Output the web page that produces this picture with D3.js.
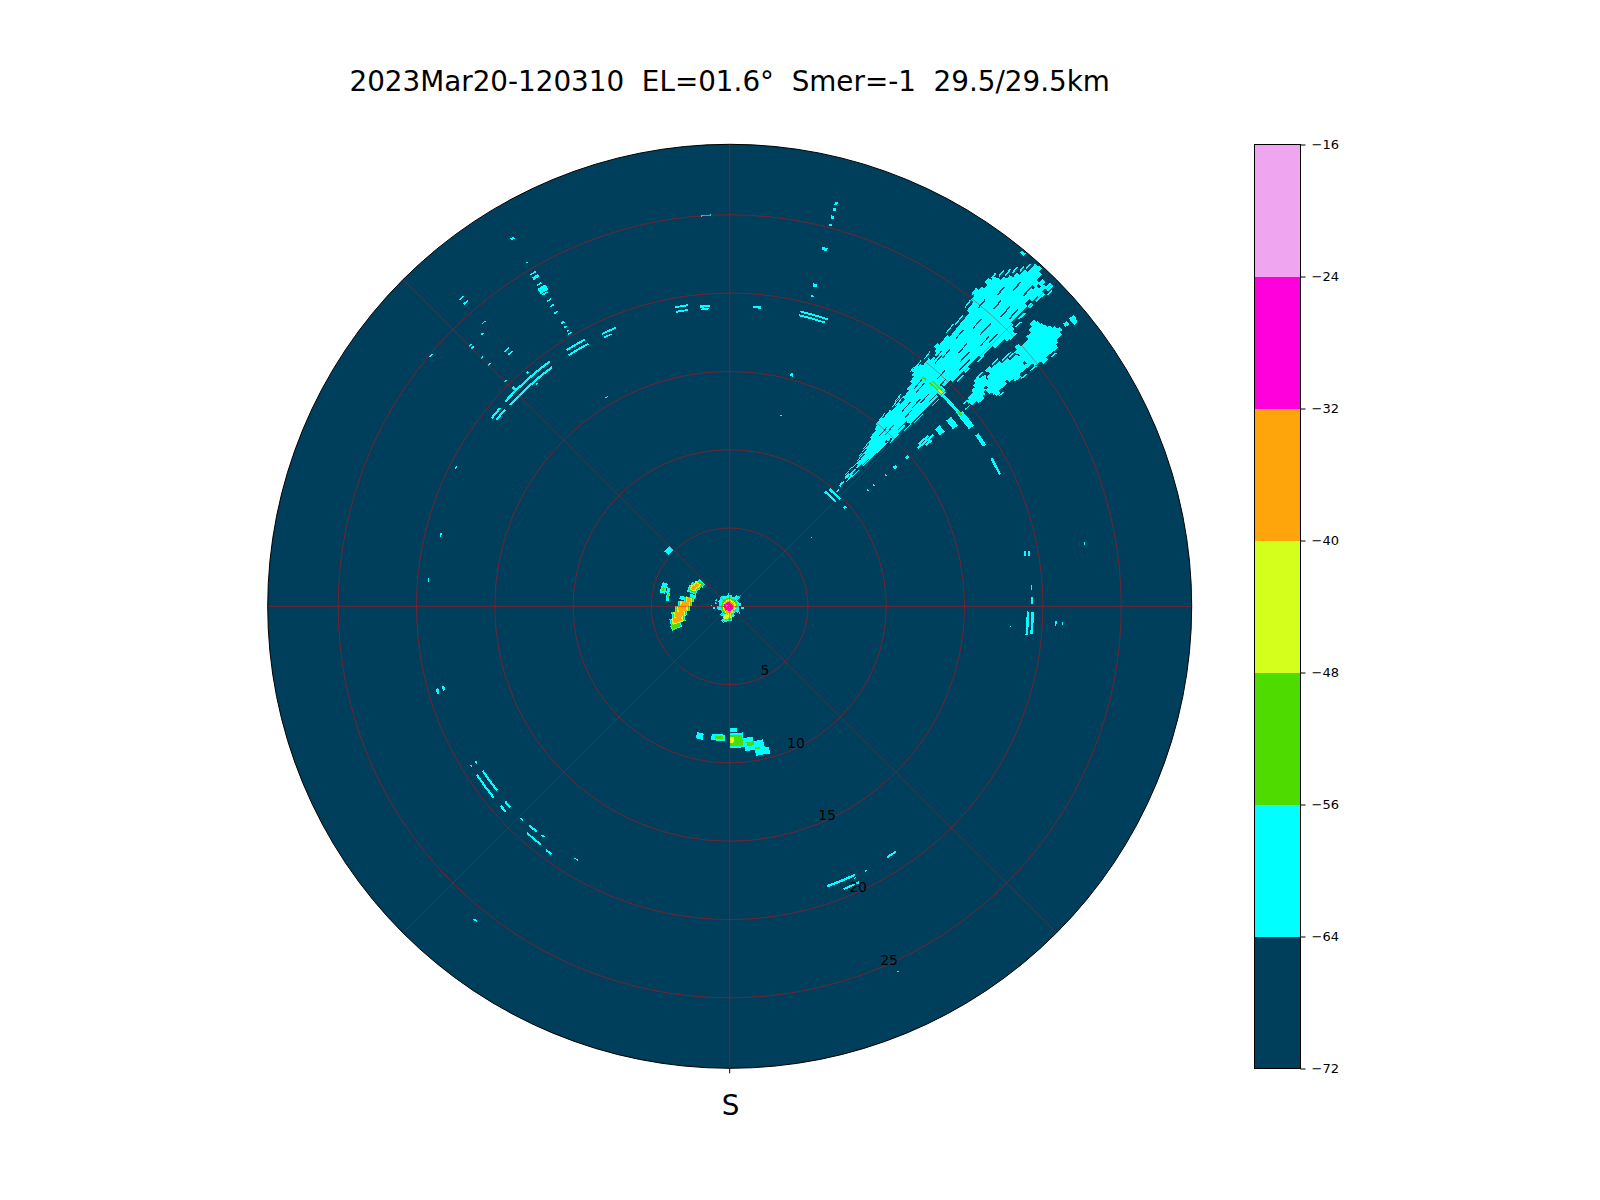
<!DOCTYPE html>
<html><head><meta charset="utf-8">
<script src="https://cdnjs.cloudflare.com/ajax/libs/d3/7.8.5/d3.min.js"></script>
<style>html,body{margin:0;padding:0;background:#fff}svg{display:block}text{font-family:"DejaVu Sans";fill:#000;white-space:pre}</style>
</head><body><svg id="c" width="1600" height="1200"></svg>
<script>
const titleText = "2023Mar20-120310  EL=01.6\u00b0  Smer=-1  29.5/29.5km";
const maxRange = 29.5;
const rangeTicks = [5,10,15,20,25];
const spokeAngles = [0,45,90,135,180,225,270,315];
const levelBounds = [-72,-64,-56,-48,-40,-32,-24,-16];
const levelColors = ["#003f5c","#00ffff","#4ddb00","#d4ff1c","#ffa50c","#ff00dd","#f0a5f0"];

// Radial strips: azimuth (deg) followed by [rangeStart, rangeEnd] gate runs (km)
const mainPlumeStrips = [
 [38,[19.0,19.4],[25.3,25.7]],
 [38.5,[18.8,19.7],[21.1,21.4],[24.9,26.0],[26.3,26.7]],
 [39,[14.9,15.5],[18.4,20.3],[20.9,22.2],[24.2,27.0]],
 [39.5,[14.6,16.2],[17.9,20.6],[20.7,27.1]],
 [40,[14.0,16.9],[17.3,27.4]],
 [40.5,[13.7,27.7]],
 [41,[13.3,28.1]],
 [41.5,[13,28.6]],
 [42,[11.0,11.4],[12.2,29.3]],
 [42.5,[10.4,10.8],[11.4,11.9],[12.0,29.4]],
 [43,[10.0,10.2],[11.1,11.5],[12.4,29.1]],
 [43.5,[12.9,14.4],[14.6,28.0],[28.2,28.6]],
 [44,[14.9,16.1],[16.3,19],[19.6,28.3],[28.5,28.9]],
 [44.5,[16.4,18.9],[20.2,27.0],[27.4,28.7]],
 [45,[19.0,19.4],[21.2,21.6],[22.6,25.5],[27.0,27.3],[27.9,28.3],[28.6,29.1]],
 [45.5,[23.6,25.4]],
 [46,[24.5,25.2]]
];
// Thin no-echo streaks inside the main plume: [azimuth, rangeStart, rangeEnd]
const plumeGaps = [
 [40.2,22.4,23.1],[40.6,20.9,21.6],[41.2,23.6,24.4],[41.6,25.4,26.1],[42.1,21.8,22.6],[42.4,19.6,20.4],
 [42.7,23.6,24.6],[43.1,25.3,26.2],[43.3,21.4,22.3],[43.6,19.0,20.0],[43.9,23.1,23.9],[44.2,21.0,22.0],
 [44.2,25.6,26.4],[41.1,18.1,18.9],[41.5,16.6,17.4],[42.2,14.8,15.6],[42.9,16.4,17.1],[43.2,17.8,18.6],
 [40.3,18.2,19.0],[41.9,27.1,27.8],[43.4,27.3,28.0],[40.7,26.2,26.9],[39.8,24.8,25.5],[42.6,17.2,18.0],
 [40.2,20.3,21.0],[39.7,20.4,21.2],[44.5,23.6,24.4],[43.7,15.6,16.4],[44.3,18.2,18.9],[41.3,14.5,15.2]
];
// Thin echo spikes fringing both plumes: [azimuth, rangeStart, rangeEnd]
const upperFringe = [
 [37.6,18.9,19.3],[37.9,19.2,19.9],[38.2,20.1,20.7],[38.4,22.3,23.0],[38.7,23.0,23.8],[38.2,24.3,24.9],[37.9,25.2,25.6],
 [38.6,26.8,27.2],[39.2,27.2,27.7],[39.8,27.5,28.0],[40.3,27.9,28.4],[40.9,28.3,28.7],[41.3,28.7,29.1],[39.2,16.4,17.2],
 [39.6,16.6,17.4],[38.9,16.8,17.4],[38.8,15.3,15.8],[40.3,13.2,13.7],[40.7,12.7,13.3],[41.2,12.3,13.0],[41.6,11.8,12.6],[41.3,11.2,11.8]
];
const lowerFringe = [
 [45.2,26.0,26.6],[45.4,22.2,22.8],[45.3,20.4,21],[45.7,25.5,26.0],[46.4,24.7,25.3],[45.2,16.6,17.4],[44.9,15.8,16.4],[44.4,14.6,15.4],
 [43.9,13.6,14.6],[43.6,12.4,13],[43.4,11.4,12.0],[43.2,10.7,11.1],[45.3,18.2,18.8],[45.1,27.6,28],[45.6,28.4,28.8]
];
const secondFringe = [
 [47.3,22.8,23.3],[47.9,23.4,24.2],[48.3,23.9,24.4],[47.2,21.4,22],[52,21.8,22.2],[52,23.6,24.1],[52.2,26.0,26.4],[51.9,24.4,24.9],[49.1,19.7,20.1],[50.1,19.6,20]
];
const secondPlumeStrips = [
 [47,[26.3,26.7]],
 [47.5,[21.2,21.6],[22.2,22.6],[26.0,26.8]],
 [48,[21.0,22.0],[22.3,23.3],[24.6,24.9],[25.6,26.9]],
 [48.5,[20.7,21.9],[22.0,23.8],[24.4,27.0]],
 [49,[20.2,24.4],[24.5,27.2]],
 [49.5,[20.0,21.4],[21.6,27.4]],
 [50,[20.1,21.2],[21.4,27.6],[27.9,28.2],[28.4,28.8]],
 [50.5,[20.5,21.0],[21.4,24.3],[24.5,27.4],[28.4,28.7]],
 [51,[21.6,22.7],[22.9,26.9]],
 [51.5,[21.7,22.0],[23.2,23.7],[24.8,26.7]],
 [52,[25.3,25.7]]
];
// Cells: [azStart, azEnd, rangeStart, rangeEnd]
const cyanNeCells = [
 [37.9,45,19.0,19.5],[45,50,19.05,19.25],[50,53.5,19.0,19.4],[49.4,51.6,18.2,18.6],[49.2,50.9,17.3,17.7],
 [49.1,49.6,15.9,16.7],[49.7,50.2,15.7,17],[50.3,50.8,16.2,16.7],
 [55.2,57.8,19.1,19.35],[60.5,64,19.12,19.28],[49.5,50.3,13.7,13.9],[49.6,50.4,14.7,14.9],
 [49.7,50.2,12.95,13.05],[49.7,50.2,11.95,12.05],[49.7,50.2,11.45,11.55],
 [41.6,42.6,11.1,11.3],[42,42.7,10.55,10.7],[39.8,45.5,9.45,9.6],[40.5,46,9.75,9.9],
 [14.5,15.3,23.5,23.7],[14.5,15.2,21.1,21.3],[14.6,15.2,20.45,20.55],[13.4,19,19.3,19.42],
 [13.4,18.6,19.05,19.17],[14.7,15.3,15.2,15.4],[39.4,40,29.2,29.4],
 [14.6,15,26.5,26.7],[14.6,15,26.1,26.3],[14.6,15,25.6,25.8],[14.6,15,25.1,25.25],
 [14.7,15.2,12.55,12.65],[49.7,50.3,6.75,6.85],[48.8,49.8,9.6,9.8]
];
const cyanNorthCells = [
 [-4.2,-2.8,24.95,25.05],[-10.4,-7.9,19.35,19.47],[-10.4,-8,19.05,19.17],
 [-5.7,-3.8,19.15,19.3],[-5.6,-3.9,19.0,19.1],[4.5,6,19.1,19.25]
];
const cyanNwCells = [
 [-47.7,-36.3,19.33,19.47],[-47.5,-36.6,18.95,19.09],[-51.7,-49.2,19.3,19.44],[-51.4,-48.8,19.0,19.14],
 [-32.5,-28.4,19.32,19.45],[-32.7,-28.3,18.98,19.11],[-25.1,-22.2,19.15,19.27],[-25,-23.5,18.9,19.0],
 [-31,-30,24.65,24.75],[-31,-30,24.3,24.5],[-31,-30.2,23.85,23.95],[-31.2,-29.8,23.3,23.7],[-31,-30.1,23.15,23.25],
 [-30.9,-30.2,22.65,22.75],[-30.9,-30.2,22.25,22.35],[-30.9,-30.2,21.75,21.85],[-30.8,-30.2,20.95,21.1],
 [-30.7,-30.2,20.65,20.75],[-30.7,-30.2,20.35,20.45],[-30.7,-30,20.15,20.25],
 [-30.8,-30.3,27.2,27.35],[-30.7,-30.4,25.45,25.55],[-41.4,-40.6,26.05,26.15],[-41.4,-40.6,25.65,25.75],
 [-41.2,-40.6,23.95,24.02],[-42.5,-42,23.45,23.55],[-50.3,-49.7,24.85,24.95],[-45.1,-44.6,23.45,23.55],
 [-45.1,-44.6,23.25,23.35],[-45.1,-44.6,22.35,22.47],[-45.1,-44.5,21.75,21.85],[-45.1,-44.6,20.25,20.35],
 [-41.5,-40.5,21.65,21.75],[-41.3,-40.4,21.35,21.45],[-41.1,-40.7,19.65,19.8],[-41.1,-40.6,18.77,18.83],
 [-30.8,-30.2,15.47,15.53],[-45,-44.5,19.5,19.7]
];
const cyanWestCells = [
 [-106.7,-105.7,19.33,19.5],[-106.4,-105.5,18.92,19.08],[-76.6,-75.7,18.95,19.05],[-63.4,-62.8,19.55,19.65],
 [-85.3,-84.7,19.27,19.33],[-141.3,-140.7,25.75,25.85]
];
const cyanSwCells = [
 [-129,-123.7,19.33,19.47],[-128.4,-123.7,18.88,19.02],[-121.9,-121.3,18.95,19.07],[-121.9,-121.5,19.35,19.45],
 [-132.5,-131,18.93,19.07],[-132.5,-131,19.33,19.47],[-136,-135.4,18.95,19.05],[-139.5,-137.5,18.88,19.02],
 [-141.6,-138.2,19.35,19.48],[-141.3,-140.5,18.85,18.95],[-144.3,-143,19.42,19.55],[-149.1,-148.3,18.85,18.93]
];
const cyanSeCells = [
 [155,160.8,18.85,19.0],[154.9,158.1,19.4,19.53],[152.6,153,18.96,19.04],[155.1,155.5,19.07,19.13],
 [145.9,147.9,18.85,18.98],[155.1,155.5,25.65,25.72]
];
const cyanEastCells = [
 [79.4,80.4,19.1,19.22],[79.5,80.4,19.35,19.47],[79.8,80.2,22.97,23.03],[86,87,19.27,19.35],[88.3,89.5,19.27,19.37],
 [91,95.5,18.97,19.13],[91,95.2,19.27,19.43],[92.5,93.5,20.82,20.9],[92.7,93.3,21.22,21.3],[94,94.4,17.92,17.98]
];
const cyanNearCells = [
 [-78,-72,2.25,2.62],[-84,-78,2.3,2.95],[-90,-84,2.4,3.3],[-96,-90,2.55,3.5],[-102,-96,2.75,3.75],[-108,-102,2.95,3.95],[-113,-108,3.3,4.0],
 [-71,-62,2.28,2.9],[-62,-56,2.2,2.85],[-56,-48,2.1,2.6],[-79,-70,4.2,4.55],[-78,-73,3.95,4.15],[-85,-78,3.9,4.1],
 [-50,-45,5.1,5.45],[-82,-78,2.95,3.25],
 [174,180,8.1,9.05],[170,174,8.45,9.3],[166,170,8.75,9.7],[164.5,166,9.3,9.75],[176.8,180,7.8,8.05],
 [182,188,8.2,8.62],[191.5,194.5,8.3,8.7],[44,46.5,0.6,1.05],
 [-90,-85,1.1,1.2],[-100,-92,.95,1.05],[-80,-74,.85,.95],[-70,-62,.9,1.0],[95,102,.75,.9],[120,128,.7,.82],[352,358,.72,.85],[200,206,1.05,1.12]
];
const greenCells = [
 [40,41,19.05,19.2],[41.8,45,19.1,19.2],[42,44.5,19.3,19.4],[49.5,50.5,19.1,19.25],
 [-84,-77,2.37,2.88],[-90,-84,2.47,3.23],[-96,-90,2.62,3.43],[-102,-96,2.82,3.68],[-108,-102,3.02,3.88],[-112,-108,3.37,3.93],
 [-69,-62,2.35,2.83],[-62,-56,2.27,2.78],[-56,-50,2.17,2.53],[-77,-74,4.3,4.45],[-82,-79,3.95,4.03],
 [174.5,180,8.25,8.95],[170,173,8.75,9.0],[183,186.5,8.3,8.5],[168,170,9.15,9.3]
];
const yellowCells = [
 [44,45,19.15,19.3],[178,180,8.35,8.7],
 [-84,-78,2.43,2.82],[-90,-84,2.53,3.17],[-96,-90,2.68,3.37],[-102,-96,2.88,3.62],[-108,-102,3.08,3.82],
 [-67,-60,2.4,2.78],[-60,-53,2.3,2.7]
];
const orangeCells = [
 [-84,-79,2.5,2.74],[-90,-84,2.62,3.08],[-96,-90,2.77,3.28],[-102,-96,2.97,3.53],[-107,-102,3.18,3.72],
 [-66,-60,2.47,2.7],[-60,-55,2.38,2.6]
];
const orangeCoreCells = [[-30,30,0,.09],[150,200,.05,.12],[-110,-70,.15,.22]];
// Sweep of the ground clutter at the radar site
const clutterAz = [0,20,40,60,80,100,120,140,160,180,200,220,240,260,280,300,320,340];
const clutterCyan = [.72,.65,.85,.62,.72,.62,.68,.52,.72,.95,1.05,.8,.62,.8,.7,.78,.82,.72];
const clutterGreen = [.55,.5,.55,.5,.5,.45,.5,.4,.55,.85,.9,.6,.55,.55,.5,.55,.55,.55];
const clutterYellow = [.45,.4,.4,.4,.4,.35,.4,.35,.45,.75,.85,.5,.45,.45,.4,.45,.45,.45];
const clutterOrange = [.35,.3,.3,.3,.3,.3,.3,.3,.35,.45,.55,.4,.4,.4,.35,.35,.35,.35];
const clutterMagenta = [.28,.22,.2,.2,.2,.22,.25,.25,.28,.3,.3,.3,.35,.4,.38,.3,.3,.28];

const cx = 729.7, cy = 606.3, R = 462;
const svg = d3.select("#c");
const rScale = d3.scaleLinear().domain([0,maxRange]).range([0,R]);
const aScale = d3.scaleLinear().domain([0,360]).range([0,2*Math.PI]);
const colorOf = d3.scaleOrdinal().domain(d3.range(levelColors.length)).range(levelColors);
const arc = d3.arc();
const plot = svg.append("g").attr("transform",`translate(${cx},${cy})`);

plot.append("circle").attr("r",rScale(maxRange)).attr("fill",levelColors[0]);

function drawCells(cells, level){
  plot.append("g").attr("fill",colorOf(level)).attr("shape-rendering","crispEdges")
   .selectAll("path").data(cells).join("path")
   .attr("d",c=>arc({innerRadius:rScale(c[2]),outerRadius:rScale(c[3]),startAngle:aScale(c[0]),endAngle:aScale(c[1])}));
}
function stripsToCells(strips){
  const out=[];
  strips.forEach(s=>s.slice(1).forEach(g=>out.push([s[0]-0.28,s[0]+0.28,g[0],g[1]])));
  return out;
}
function thinToCells(list){
  return list.map(g=>[g[0]-0.1,g[0]+0.1,g[1],g[2]]);
}
function sweepToCells(reach){
  return clutterAz.map((a,i)=>[a-10,a+10,0,reach[i]]);
}
drawCells(stripsToCells(mainPlumeStrips),1);
drawCells(thinToCells(plumeGaps),0);
drawCells(thinToCells(upperFringe),1);
drawCells(thinToCells(lowerFringe),1);
drawCells(stripsToCells(secondPlumeStrips),1);
drawCells(thinToCells(secondFringe),1);
[cyanNeCells,cyanNorthCells,cyanNwCells,cyanWestCells,cyanSwCells,cyanSeCells,cyanEastCells,cyanNearCells].forEach(c=>drawCells(c,1));
drawCells(sweepToCells(clutterCyan),1);
drawCells(greenCells,2);
drawCells(sweepToCells(clutterGreen),2);
drawCells(yellowCells,3);
drawCells(sweepToCells(clutterYellow),3);
drawCells(orangeCells,4);
drawCells(sweepToCells(clutterOrange),4);
drawCells(sweepToCells(clutterMagenta),5);
drawCells(orangeCoreCells,4);

// grid
const grid = plot.append("g").attr("fill","none").attr("stroke","#ff0000").attr("stroke-opacity",0.45).attr("stroke-width",1);
grid.selectAll("circle").data(rangeTicks).join("circle").attr("r",d=>rScale(d));
grid.selectAll("line").data(spokeAngles).join("line")
 .attr("x1",0).attr("y1",0)
 .attr("x2",d=>rScale(maxRange)*Math.sin(aScale(d)))
 .attr("y2",d=>-rScale(maxRange)*Math.cos(aScale(d)));
plot.append("circle").attr("r",rScale(maxRange)).attr("fill","none").attr("stroke","#000").attr("stroke-width",1);

// bottom tick and label
plot.append("line").attr("x1",0).attr("x2",0).attr("y1",R).attr("y2",R+5).attr("stroke","#000");
svg.append("text").attr("x",cx+1).attr("y",1115).attr("text-anchor","middle").attr("font-size",27.8).text("S");

// range labels
const labelAz = 156.8;
plot.selectAll("text.r").data(rangeTicks).join("text").attr("class","r")
 .attr("x",d=>1.006*rScale(d)*Math.sin(aScale(labelAz))+4.2)
 .attr("y",d=>-1.006*rScale(d)*Math.cos(aScale(labelAz))-3.5)
 .attr("text-anchor","middle").attr("font-size",13.9).text(d=>d);

svg.append("text").attr("x",cx).attr("y",91).attr("text-anchor","middle").attr("font-size",27.8).text(titleText);

// colorbar
const barX=1254.5, barW=46;
const yBar = d3.scaleLinear().domain([-72,-16]).range([1068.5,144.5]);
const bar = svg.append("g");
bar.selectAll("rect").data(levelColors).join("rect")
 .attr("x",barX).attr("width",barW)
 .attr("y",(d,i)=>yBar(levelBounds[i+1]))
 .attr("height",(d,i)=>yBar(levelBounds[i])-yBar(levelBounds[i+1])+0.5)
 .attr("fill",d=>d).attr("shape-rendering","crispEdges");
bar.append("rect").attr("x",barX).attr("y",144.5).attr("width",barW).attr("height",924).attr("fill","none").attr("stroke","#000").attr("stroke-width",1);
const axis = d3.axisRight(yBar).tickValues(levelBounds).tickSize(5).tickPadding(6).tickFormat(d=>String(d).replace("-","\u2212"));
const ax = svg.append("g").attr("transform",`translate(${barX+barW},0)`).call(axis);
ax.select(".domain").remove();
ax.selectAll("text").attr("font-size",13).attr("font-family","DejaVu Sans").attr("fill","#000");
ax.selectAll("line").attr("stroke","#000");
</script></body></html>
